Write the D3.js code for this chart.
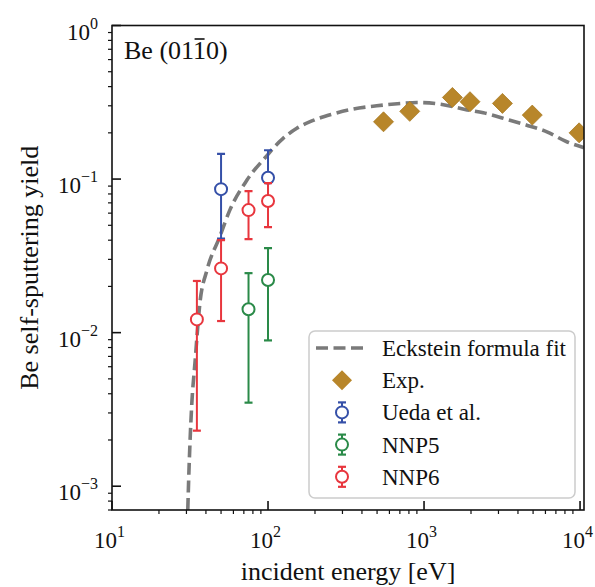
<!DOCTYPE html>
<html><head><meta charset="utf-8">
<script src="https://cdn.jsdelivr.net/npm/d3@7"></script>
<style>
html,body{margin:0;padding:0;background:#fff;}
</style></head>
<body>
<svg id="c" width="595" height="587"></svg>
<script>
// ---- data ----
const fitE = [30.6, 31.0, 31.6, 32.5, 34.0, 36.6, 40.6, 49, 57, 73.3, 100, 108, 125, 153, 191, 256, 352, 498, 719, 900, 1280, 1833, 2400, 3388, 4510, 6130, 8220, 10600];
const fitY = [0.0007, 0.0011, 0.0019, 0.0035, 0.0063, 0.0156, 0.0255, 0.042, 0.063, 0.0985, 0.145, 0.159, 0.184, 0.214, 0.239, 0.264, 0.286, 0.300, 0.311, 0.315, 0.307, 0.284, 0.270, 0.245, 0.225, 0.203, 0.175, 0.160];
const expE = [550, 810, 1520, 1970, 3180, 4940, 9860];
const expY = [0.236, 0.276, 0.340, 0.319, 0.311, 0.261, 0.200];
const uedaE = [50, 100], uedaY = [0.086, 0.102], uedaLo = [0.041, 0.068], uedaHi = [0.146, 0.154];
const nnp5E = [75, 100], nnp5Y = [0.0142, 0.022], nnp5Lo = [0.0035, 0.0089], nnp5Hi = [0.0244, 0.0355];
const nnp6E = [35, 50, 75, 100], nnp6Y = [0.0122, 0.0262, 0.0628, 0.072], nnp6Lo = [0.0023, 0.0119, 0.0406, 0.0487], nnp6Hi = [0.0217, 0.040, 0.0835, 0.094];
const xTickExp = [1, 2, 3, 4];
const yTickExp = [0, -1, -2, -3];
const legendLabels = ["Eckstein formula fit", "Exp.", "Ueda et al.", "NNP5", "NNP6"];

const FONT = '"Liberation Serif", "Times New Roman", Times, serif';
const C = {fit:"#7a7a7a", exp:"#b8862a", ueda:"#3550a8", nnp5:"#2a8a48", nnp6:"#e8363e"};
const L = 112, R = 584, T = 25.5, B = 510;
const svg = d3.select("#c");
const x = d3.scaleLog().domain([10, 10600]).range([L, R]);
const y = d3.scaleLog().domain([7e-4, 1]).range([B, T]);

svg.append("clipPath").attr("id","clip").append("rect").attr("x",L).attr("y",T).attr("width",R-L).attr("height",B-T);
const plot = svg.append("g").attr("clip-path","url(#clip)");

// fit line
const fitData = fitE.map((e,i)=>[e, fitY[i]]);
plot.append("path").datum(fitData)
  .attr("d", d3.line().x(d=>x(d[0])).y(d=>y(d[1])).curve(d3.curveMonotoneX))
  .attr("fill","none").attr("stroke",C.fit).attr("stroke-width",3.6).attr("stroke-dasharray","12,5.5");

// exp diamonds
const dsz = 10;
plot.selectAll(".exp").data(expE.map((e,i)=>[e, expY[i]])).join("path")
  .attr("d", d=>{const cx=x(d[0]), cy=y(d[1]); return `M${cx},${cy-dsz}L${cx+dsz},${cy}L${cx},${cy+dsz}L${cx-dsz},${cy}Z`;})
  .attr("fill",C.exp).attr("stroke","#a87a22").attr("stroke-width",0.8);

function errSeries(E, Y, Lo, Hi, col){
  const g = plot.append("g");
  E.forEach((e,i)=>{
    const cx = x(e);
    g.append("line").attr("x1",cx).attr("x2",cx).attr("y1",y(Lo[i])).attr("y2",y(Hi[i])).attr("stroke",col).attr("stroke-width",2);
    [Lo[i],Hi[i]].forEach(v=>g.append("line").attr("x1",cx-4).attr("x2",cx+4).attr("y1",y(v)).attr("y2",y(v)).attr("stroke",col).attr("stroke-width",2.2));
    g.append("circle").attr("cx",cx).attr("cy",y(Y[i])).attr("r",6).attr("fill","#fff").attr("stroke",col).attr("stroke-width",2);
  });
}
errSeries(uedaE, uedaY, uedaLo, uedaHi, C.ueda);
errSeries(nnp5E, nnp5Y, nnp5Lo, nnp5Hi, C.nnp5);
errSeries(nnp6E, nnp6Y, nnp6Lo, nnp6Hi, C.nnp6);

// frame
svg.append("rect").attr("x",L).attr("y",T).attr("width",R-L).attr("height",B-T).attr("fill","none").attr("stroke","#111").attr("stroke-width",1.6);

// ticks
const ax = svg.append("g").attr("stroke","#111");
xTickExp.forEach(p=>{ const v=Math.pow(10,p); ax.append("line").attr("x1",x(v)).attr("x2",x(v)).attr("y1",B).attr("y2",B-9).attr("stroke-width",1.6); });
for(let p=1;p<4;p++) for(let m=2;m<10;m++){ const v=m*Math.pow(10,p); if(v<=10600) ax.append("line").attr("x1",x(v)).attr("x2",x(v)).attr("y1",B).attr("y2",B+4).attr("stroke-width",1.2); }
yTickExp.forEach(p=>{ const v=Math.pow(10,p); ax.append("line").attr("x1",L).attr("x2",L+9).attr("y1",y(v)).attr("y2",y(v)).attr("stroke-width",1.6); });
for(let p=-4;p<0;p++) for(let m=2;m<10;m++){ const v=m*Math.pow(10,p); if(v>=7e-4 && v<1) ax.append("line").attr("x1",L).attr("x2",L-4).attr("y1",y(v)).attr("y2",y(v)).attr("stroke-width",1.2); }

function txt(sel){ return sel.append("text").attr("font-family",FONT).attr("fill","#111"); }

// tick labels
xTickExp.forEach(p=>{
  const t = txt(svg).attr("x",x(Math.pow(10,p))-18).attr("y",548).attr("font-size",23);
  t.append("tspan").text("10");
  t.append("tspan").attr("dy",-11).attr("font-size",16).text(String(p));
});
yTickExp.forEach(p=>{
  const t = txt(svg).attr("x",98).attr("y",y(Math.pow(10,p))+14).attr("text-anchor","end").attr("font-size",23);
  t.append("tspan").text("10");
  t.append("tspan").attr("dy",-11).attr("font-size",16).text(p===0?"0":"\u2212"+Math.abs(p));
});

// axis titles
txt(svg).attr("x",(L+R)/2).attr("y",580).attr("text-anchor","middle").attr("font-size",26).text("incident energy [eV]");
txt(svg).attr("transform",`translate(38,${(T+B)/2}) rotate(-90)`).attr("text-anchor","middle").attr("font-size",26).text("Be self-sputtering yield");

// annotation Be (01-10)
const ann = txt(svg).attr("x",124).attr("y",59).attr("font-size",26);
ann.append("tspan").text("Be (01");
ann.append("tspan").text("1");
ann.append("tspan").text("0)");
{
  const node = ann.node();
  const s = node.getStartPositionOfChar(6), e = node.getEndPositionOfChar(6);
  svg.append("line").attr("x1",s.x+1.5).attr("x2",e.x-1.5).attr("y1",39).attr("y2",39).attr("stroke","#111").attr("stroke-width",1.6);
}

// legend
const lg = svg.append("g");
lg.append("rect").attr("x",309).attr("y",331).attr("width",266).attr("height",167).attr("rx",6).attr("fill","#fff").attr("fill-opacity",0.8).attr("stroke","#cccccc").attr("stroke-width",1.5);
const ly = i => 348 + i*32.2;
const hx = 342;
lg.append("line").attr("x1",316).attr("x2",368).attr("y1",ly(0)).attr("y2",ly(0)).attr("stroke",C.fit).attr("stroke-width",3.6).attr("stroke-dasharray","12,5.5");
lg.append("path").attr("d",`M${hx},${ly(1)-dsz}L${hx+dsz},${ly(1)}L${hx},${ly(1)+dsz}L${hx-dsz},${ly(1)}Z`).attr("fill",C.exp);
[C.ueda,C.nnp5,C.nnp6].forEach((col,k)=>{
  const cy = ly(k+2);
  lg.append("line").attr("x1",hx).attr("x2",hx).attr("y1",cy-10).attr("y2",cy+10).attr("stroke",col).attr("stroke-width",2);
  [-10,10].forEach(d=>lg.append("line").attr("x1",hx-4).attr("x2",hx+4).attr("y1",cy+d).attr("y2",cy+d).attr("stroke",col).attr("stroke-width",2.2));
  lg.append("circle").attr("cx",hx).attr("cy",cy).attr("r",6).attr("fill","#fff").attr("stroke",col).attr("stroke-width",2);
});
legendLabels.forEach((lab,i)=>txt(lg).attr("x",382).attr("y",ly(i)+8).attr("font-size",23).text(lab));
</script>
</body></html>
